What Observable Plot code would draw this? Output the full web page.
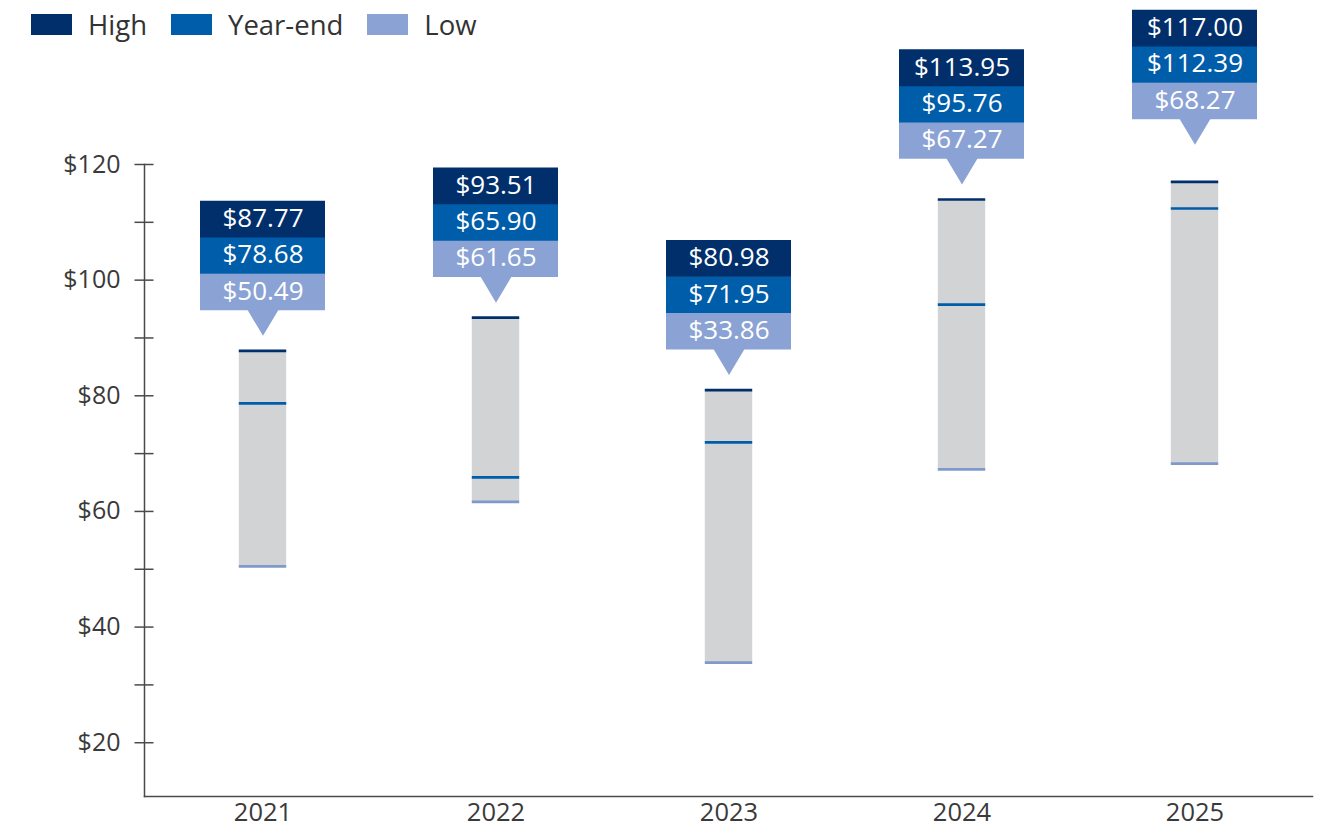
<!DOCTYPE html>
<html>
<head>
<meta charset="utf-8">
<script src="https://cdn.jsdelivr.net/npm/d3@7"></script>
<script src="https://cdn.jsdelivr.net/npm/@observablehq/plot@0.6"></script>
<style>
  html, body { margin: 0; padding: 0; background: #fff; }
  #wrap { position: relative; width: 1323px; height: 831px; font-family: "Open Sans", sans-serif; }
  #legend { position: absolute; left: 31px; top: 6px; display: flex; align-items: center; font-size: 27.5px; color: #333; z-index: 2; }
  #legend .item { display: flex; align-items: center; margin-right: 24px; }
  #legend .sw { width: 41px; height: 21px; margin-right: 16px; }
</style>
</head>
<body>
<div id="wrap"><div id="legend"></div><div id="chart"></div></div>
<script>
// ---- data ----
const years   = ["2021", "2022", "2023", "2024", "2025"];
const high    = [87.77, 93.51, 80.98, 113.95, 117.00];
const yearEnd = [78.68, 65.90, 71.95, 95.76, 112.39];
const low     = [50.49, 61.65, 33.86, 67.27, 68.27];
const seriesNames = ["High", "Year-end", "Low"];
const yTickLabels = [20, 40, 60, 80, 100, 120];
const yTicksAll   = [20, 30, 40, 50, 60, 70, 80, 90, 100, 110, 120];

// ---- styles ----
const cDark = "#002f6c", cMid = "#005daa", cLight = "#8ba3d4", cLowLine = "#7f99cb", cGray = "#d1d3d4", cAxis = "#4a4a4a";
const seriesColors = [cDark, cMid, cLight];

const rows = years.map((year, i) => ({year, high: high[i], yearEnd: yearEnd[i], low: low[i]}));
const fmt = v => "$" + v.toFixed(2);

// legend
const legend = document.getElementById("legend");
seriesNames.forEach((n, i) => {
  const it = document.createElement("div"); it.className = "item";
  const sw = document.createElement("div"); sw.className = "sw"; sw.style.background = seriesColors[i];
  const tx = document.createElement("span"); tx.textContent = n;
  it.appendChild(sw); it.appendChild(tx); legend.appendChild(it);
});

// callout builder: boxes stacked above a downward pointer, tip `gap` px above the high value
const boxH = 36.3, triH = 26, triW = 32;
const pointer = {draw(ctx) { ctx.moveTo(-triW / 2, -triH - 0.8); ctx.lineTo(triW / 2, -triH - 0.8); ctx.lineTo(0, 0); ctx.closePath(); }};
function callout(data, gap) {
  const base = gap + triH;
  const boxes = [["low", cLight, 0.5], ["yearEnd", cMid, 1.5], ["high", cDark, 2.5]];
  const marks = [Plot.dot(data, {x: "year", y: "high", r: 1, symbol: pointer, fill: cLight, stroke: null, dy: -gap})];
  for (const [key, color, k] of boxes) {
    marks.push(Plot.tickY(data, {x: "year", y: "high", stroke: color, strokeWidth: boxH + 0.6, insetLeft: 54, insetRight: 54, dy: -(base + boxH * k)}));
  }
  for (const [key, color, k] of boxes) {
    marks.push(Plot.text(data, {x: "year", y: "high", text: d => fmt(d[key]), fill: "white", fontSize: 26, dy: -(base + boxH * k) - 0.5}));
  }
  return marks;
}

const lastYear = years[years.length - 1];
const chart = Plot.plot({
  width: 1323,
  height: 831,
  marginTop: 164,
  marginBottom: 35,
  marginLeft: 144,
  marginRight: 11,
  style: {fontFamily: "Open Sans", fontSize: "24px", color: "#3a3a3a", background: "transparent"},
  x: {domain: years, padding: 0, label: null},
  y: {domain: [10.7, 120], label: null},
  marks: [
    Plot.barY(rows, {x: "year", y1: "low", y2: "high", fill: cGray, insetLeft: 92.8, insetRight: 92.8}),
    Plot.tickY(rows, {x: "year", y: "high", stroke: cDark, strokeWidth: 2.7, insetLeft: 92.8, insetRight: 92.8}),
    Plot.tickY(rows, {x: "year", y: "yearEnd", stroke: cMid, strokeWidth: 2.7, insetLeft: 92.8, insetRight: 92.8}),
    Plot.tickY(rows, {x: "year", y: "low", stroke: cLowLine, strokeWidth: 2.7, insetLeft: 92.8, insetRight: 92.8}),
    ...callout(rows.filter(d => d.year !== lastYear), 15),
    ...callout(rows.filter(d => d.year === lastYear), 37),
    Plot.frame({anchor: "left", stroke: cAxis, strokeWidth: 1.5}),
    Plot.frame({anchor: "bottom", stroke: cAxis, strokeWidth: 1.5}),
    Plot.axisY(yTicksAll, {anchor: "left", tickSize: 19, dx: 9.5, stroke: cAxis, strokeWidth: 1.5, fill: "none", label: null}),
    Plot.axisY(yTickLabels, {anchor: "left", tickSize: 0, tickPadding: 24, tickFormat: d => "$" + d, fontSize: 25, label: null}),
    Plot.axisX({anchor: "bottom", tickSize: 0, tickPadding: 6, fontSize: 25.5, label: null})
  ]
});
document.getElementById("chart").appendChild(chart);
</script>
</body>
</html>
